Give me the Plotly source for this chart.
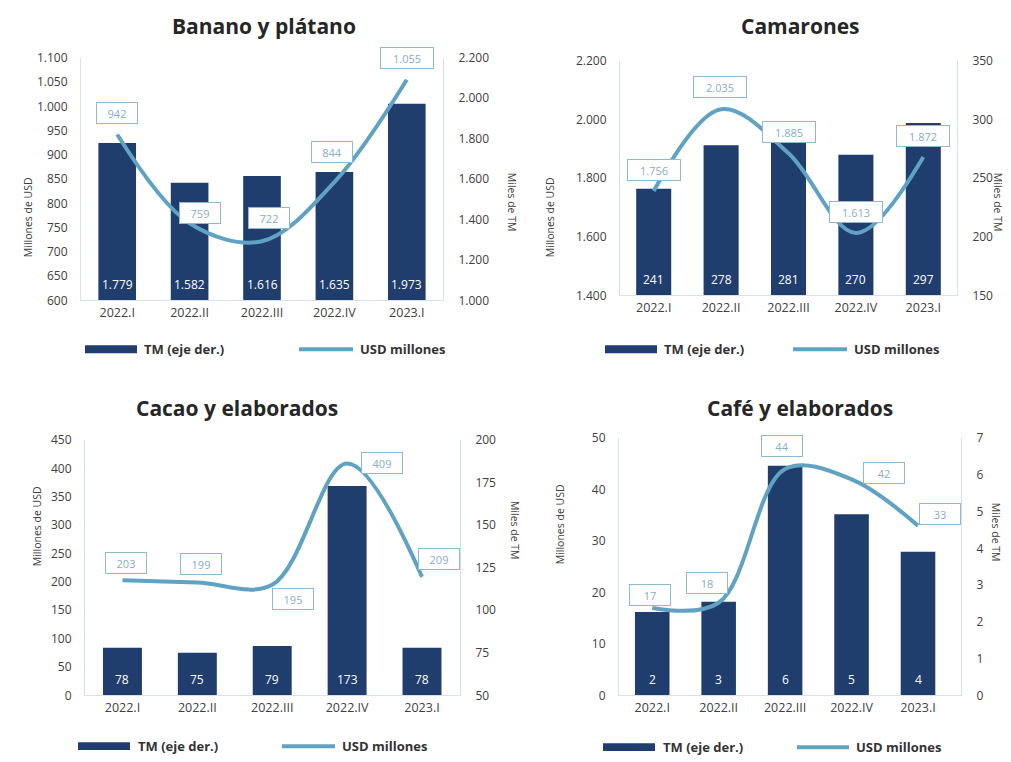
import plotly.graph_objects as go

# ---------------- data ----------------
categorias = ["2022.I", "2022.II", "2022.III", "2022.IV", "2023.I"]

banano_titulo = "Banano y plátano"
banano_tm = [1779, 1582, 1616, 1635, 1973]
banano_usd = [942, 759, 722, 844, 1055]

camarones_titulo = "Camarones"
camarones_tm = [241, 278, 281, 270, 297]
camarones_usd = [1756, 2035, 1885, 1613, 1872]

cacao_titulo = "Cacao y elaborados"
cacao_tm = [78, 75, 79, 173, 78]
cacao_usd = [203, 199, 195, 409, 209]

cafe_titulo = "Café y elaborados"
cafe_tm = [2.27, 2.55, 6.25, 4.93, 3.91]
cafe_usd = [17, 18, 44, 42, 33]

serie_barras = "TM (eje der.)"
serie_linea = "USD millones"
titulo_izq = "Millones de USD"
titulo_der = "Miles de TM"

# ---------------- style / layout ----------------
W, H = 1011, 762
BAR = "#1f3d6d"
LINE = "#5fa2c2"
AXL = "#d3e2ec"
TXT = "#404040"
LBL = "#86aec6"
FONT = "Open Sans"


def fx(x):
    return x / W


def fy(y):
    return 1 - y / H


def fmt(v):
    return f"{v:,.0f}".replace(",", ".")


paneles = [
    dict(tit=banano_titulo, tm=banano_tm, usd=banano_usd,
         box=(81, 443, 50, 298), rl=(600, 1100, 50), rr=(1000, 2200, 200),
         tpos=(264, 17), yl=(19, 170), yr=(512, 165),
         leg=(348, 85, 137, 142, 299, 353, 358),
         off=[(0, -22), (10, -10), (7, -23), (-2, -30), (0, -22)]),
    dict(tit=camarones_titulo, tm=camarones_tm, usd=camarones_usd,
         box=(620, 957, 53, 293), rl=(1400, 2200, 200), rr=(150, 350, 50),
         tpos=(800, 17), yl=(550, 170), yr=(1007, 165),
         leg=(348, 605, 657, 662, 793, 847, 852),
         off=[(0, -21), (-1, -22), (0, -21), (0, -21), (0, -21)]),
    dict(tit=cacao_titulo, tm=cacao_tm, usd=cacao_usd,
         box=(85, 460, 441, 702), rl=(0, 450, 50), rr=(50, 200, 25),
         tpos=(237, 408), yl=(28, 572), yr=(515, 565),
         leg=(754, 78, 130, 136, 282, 335, 340),
         off=[(4, -17), (4, -18), (21, 14), (35, 0), (17, -18)]),
    dict(tit=cafe_titulo, tm=cafe_tm, usd=cafe_usd,
         box=(619, 961, 439, 702), rl=(0, 50, 10), rr=(0, 7, 1),
         tpos=(800, 408), yl=(560, 570), yr=(1005, 567),
         leg=(755, 603, 655, 661, 797, 849, 854),
         off=[(-2, -13), (-12, -20), (-3, -23), (32, -6), (22, -12)]),
]

fig = go.Figure()
layout = dict(width=W, height=H, margin=dict(l=0, r=0, t=0, b=0),
              paper_bgcolor="white", plot_bgcolor="white",
              separators=",.", showlegend=False,
              font=dict(family=FONT, color=TXT))
annotations = []
shapes = []
TICK = 12

for i, p in enumerate(paneles, start=1):
    xid = "x" if i == 1 else f"x{i}"
    ytm_n = 2 * i - 1
    yusd_n = 2 * i
    ytm = "y" if ytm_n == 1 else f"y{ytm_n}"
    yusd = f"y{yusd_n}"
    x0, x1, yt, yb = p["box"]
    dom_x = [fx(x0), fx(x1)]
    dom_y = [fy(yb), fy(yt)]

    fig.add_trace(go.Bar(x=categorias, y=p["tm"], name=serie_barras,
                         marker=dict(color=BAR, line=dict(width=0)),
                         width=0.52, xaxis=xid, yaxis=ytm,
                         hoverinfo="skip"))
    fig.add_trace(go.Scatter(x=categorias, y=p["usd"], name=serie_linea,
                             mode="lines",
                             line=dict(color=LINE, width=4, shape="spline",
                                       smoothing=1.0),
                             xaxis=xid, yaxis=yusd, hoverinfo="skip"))

    xkey = "xaxis" if i == 1 else f"xaxis{i}"
    layout[xkey] = dict(domain=dom_x, anchor=ytm, type="category",
                        showline=True, linecolor=AXL, linewidth=1,
                        ticks="", showgrid=False, zeroline=False,
                        tickfont=dict(size=12.5, color=TXT),
                        ticklabelstandoff=1, fixedrange=True)
    lo, hi, dt = p["rr"]
    layout["yaxis" if ytm_n == 1 else f"yaxis{ytm_n}"] = dict(
        domain=dom_y, anchor=xid, side="right", range=[lo, hi], dtick=dt,
        tick0=lo, tickformat=",.0f", showgrid=False, zeroline=False,
        showline=True, linecolor=AXL, linewidth=1, ticks="",
        tickfont=dict(size=TICK, color=TXT), ticklabelstandoff=12)
    lo, hi, dt = p["rl"]
    layout[f"yaxis{yusd_n}"] = dict(
        domain=dom_y, anchor=xid, overlaying=ytm, side="left",
        range=[lo, hi], dtick=dt, tick0=lo, tickformat=",.0f",
        showgrid=False, zeroline=False, showline=True, linecolor=AXL,
        linewidth=1, ticks="", tickfont=dict(size=TICK, color=TXT),
        ticklabelstandoff=10)

    # title
    annotations.append(dict(text=f"<b>{p['tit']}</b>", xref="paper",
                            yref="paper", x=fx(p["tpos"][0]),
                            y=fy(p["tpos"][1]), showarrow=False,
                            xanchor="center", yanchor="middle",
                            font=dict(size=21, color="#262626")))
    # axis titles
    annotations.append(dict(text=titulo_izq, xref="paper", yref="paper",
                            x=fx(p["yl"][0]), y=fy(p["yl"][1]),
                            textangle=-90, showarrow=False,
                            font=dict(size=10.5, color=TXT)))
    annotations.append(dict(text=titulo_der, xref="paper", yref="paper",
                            x=fx(p["yr"][0]), y=fy(p["yr"][1]),
                            textangle=90, showarrow=False,
                            font=dict(size=10.5, color=TXT)))

    # line value labels (boxed)
    for c, v, (dx, dy) in zip(categorias, p["usd"], p["off"]):
        s = fmt(v)
        annotations.append(dict(text=s, xref=xid, yref=yusd, x=c, y=v,
                                xshift=dx, yshift=-dy, showarrow=False,
                                font=dict(size=11, color=LBL),
                                bgcolor="white", bordercolor="#8dbad2",
                                borderwidth=1, borderpad=2,
                                width=36 if len(s) <= 3 else 48, height=16))
    # bar value labels
    for c, v in zip(categorias, p["tm"]):
        annotations.append(dict(text=fmt(v), xref=xid, yref=ytm, x=c,
                                y=p["rr"][0], yshift=16, showarrow=False,
                                yanchor="middle",
                                font=dict(size=12, color="white")))

    # legend
    ly, r0, r1, t1, l0, l1, t2 = p["leg"]
    shapes.append(dict(type="rect", xref="paper", yref="paper",
                       x0=fx(r0), x1=fx(r1), y0=fy(ly + 4), y1=fy(ly - 4),
                       fillcolor=BAR, line=dict(width=0)))
    shapes.append(dict(type="line", xref="paper", yref="paper",
                       x0=fx(l0), x1=fx(l1), y0=fy(ly), y1=fy(ly),
                       line=dict(color=LINE, width=4)))
    annotations.append(dict(text=f"<b>{serie_barras}</b>", xref="paper",
                            yref="paper", x=fx(t1), y=fy(ly),
                            xanchor="left", yanchor="middle",
                            showarrow=False,
                            font=dict(size=13, color="#333333")))
    annotations.append(dict(text=f"<b>{serie_linea}</b>", xref="paper",
                            yref="paper", x=fx(t2), y=fy(ly),
                            xanchor="left", yanchor="middle",
                            showarrow=False,
                            font=dict(size=13, color="#333333")))

layout["annotations"] = annotations
layout["shapes"] = shapes
fig.update_layout(**layout)
fig.write_html("out.html")
